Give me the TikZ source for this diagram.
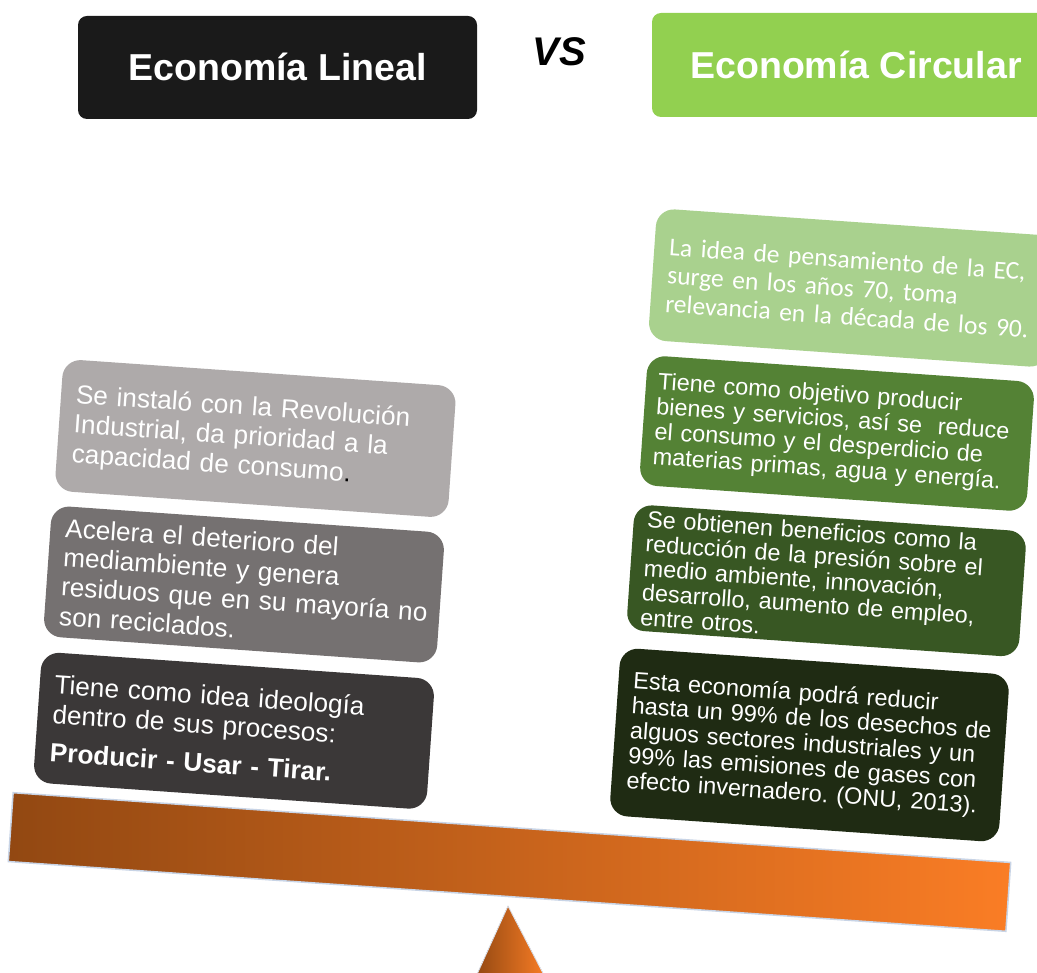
\documentclass[tikz,border=0pt]{standalone}
\usepackage{fontspec}
\setmainfont{Liberation Sans}
\newfontfamily\calibrifont{Carlito}
\definecolor{headblack}{HTML}{1A1A1A}
\definecolor{headgreen}{HTML}{92D050}
\definecolor{greyA}{HTML}{AEAAAA}
\definecolor{greyB}{HTML}{757171}
\definecolor{greyC}{HTML}{3B3838}
\definecolor{greenA}{HTML}{A9D18E}
\definecolor{greenB}{HTML}{548235}
\definecolor{greenC}{HTML}{385723}
\definecolor{greenD}{HTML}{1F2B13}
\definecolor{beamL}{HTML}{924812}
\definecolor{beamR}{HTML}{FA7D25}
\definecolor{beamEdge}{HTML}{C8D4E6}
\frenchspacing
% let card lines run into the right padding instead of wrapping
\newcommand{\cardlines}{\rightskip=-26pt plus 1fil\relax\hyphenpenalty=10000\relax}
\begin{document}
\begin{tikzpicture}[x=1pt,y=-1pt,
  headbox/.style={rounded corners=9pt, text=white,
    font=\bfseries\fontsize{37.5}{40}\selectfont,
    text height=27pt, text depth=0pt, inner sep=0pt},
  card/.style={rounded corners=18pt, rotate=-4, text=white, align=left,
    inner xsep=15pt, inner ysep=0pt},
  lefttxt/.style={font=\fontsize{26.2}{29.5}\selectfont},
  righttxt/.style={font=\fontsize{23.5}{25}\selectfont},
]
\clip (0,0) rectangle (1037,973);
\fill[white] (0,0) rectangle (1037,973);

% titles
\node[headbox, fill=headblack, minimum width=399pt, minimum height=103pt]
  (lin) at (277.5,67.5) {Economía Lineal};
\node[font=\bfseries\itshape\fontsize{40}{44}\selectfont, inner sep=0pt]
  (vs) at (559,52) {VS};
\node[headbox, fill=headgreen, minimum width=408pt, minimum height=104pt]
  (circ) at (856,65) {Economía Circular};

% linear economy cards
\node[card, lefttxt, fill=greyA, text width=364pt, minimum height=132pt]
  (l1) at (255.5,438.5)
  {\cardlines Se instaló con la Revolución\\Industrial, da prioridad a la\\capacidad de consumo{\color{black}.}};
\node[card, lefttxt, fill=greyB, text width=364pt, minimum height=131pt]
  (l2) at (244,584.5)
  {\cardlines Acelera el deterioro del\\mediambiente y genera\\residuos que en su mayoría no\\son reciclados.};
\node[card, lefttxt, fill=greyC, text width=364pt, minimum height=131pt]
  (l3) at (234,730.75)
  {\cardlines Tiene como idea ideología\\dentro de sus procesos:\\[9pt]{\bfseries Producir - Usar - Tirar.}};

% circular economy cards
\node[card, fill=greenA, text width=370pt, minimum height=132pt,
  font=\calibrifont\fontsize{25.6}{28.5}\selectfont]
  (r1) at (852,288)
  {\cardlines La idea de pensamiento de la EC,\\surge en los años 70, toma\\relevancia en la década de los 90.};
\node[card, righttxt, fill=greenB, text width=364pt, inner xsep=12pt, minimum height=130pt]
  (r2) at (837,433.5)
  {\cardlines Tiene como objetivo producir\\bienes y servicios, así se\ \ reduce\\el consumo y el desperdicio de\\materias primas, agua y energía.};
\node[card, fill=greenC, text width=366pt, inner xsep=13.5pt, minimum height=126pt,
  font=\fontsize{23.4}{24.5}\selectfont]
  (r3) at (826.5,580.75)
  {\cardlines Se obtienen beneficios como la\\reducción de la presión sobre el\\medio ambiente, innovación,\\desarrollo, aumento de empleo,\\entre otros.};
\node[card, righttxt, fill=greenD, text width=360pt, minimum height=168pt]
  (r4) at (809.5,745)
  {\cardlines Esta economía podrá reducir\\hasta un 99\% de los desechos de\\alguos sectores industriales y un\\99\% las emisiones de gases con\\efecto invernadero. (ONU, 2013).};

% balance beam and pivot
\node[rotate=-4, minimum width=1000pt, minimum height=69pt, inner sep=0pt,
  left color=beamL, right color=beamR, draw=beamEdge, line width=1.5pt]
  (beam) at (509.5,862) {};
\filldraw[left color=beamL, right color=beamR, draw=beamEdge!60!white, line width=0.8pt]
  (508,906) -- (546.5,980) -- (474.5,980) -- cycle;
\end{tikzpicture}
\end{document}
